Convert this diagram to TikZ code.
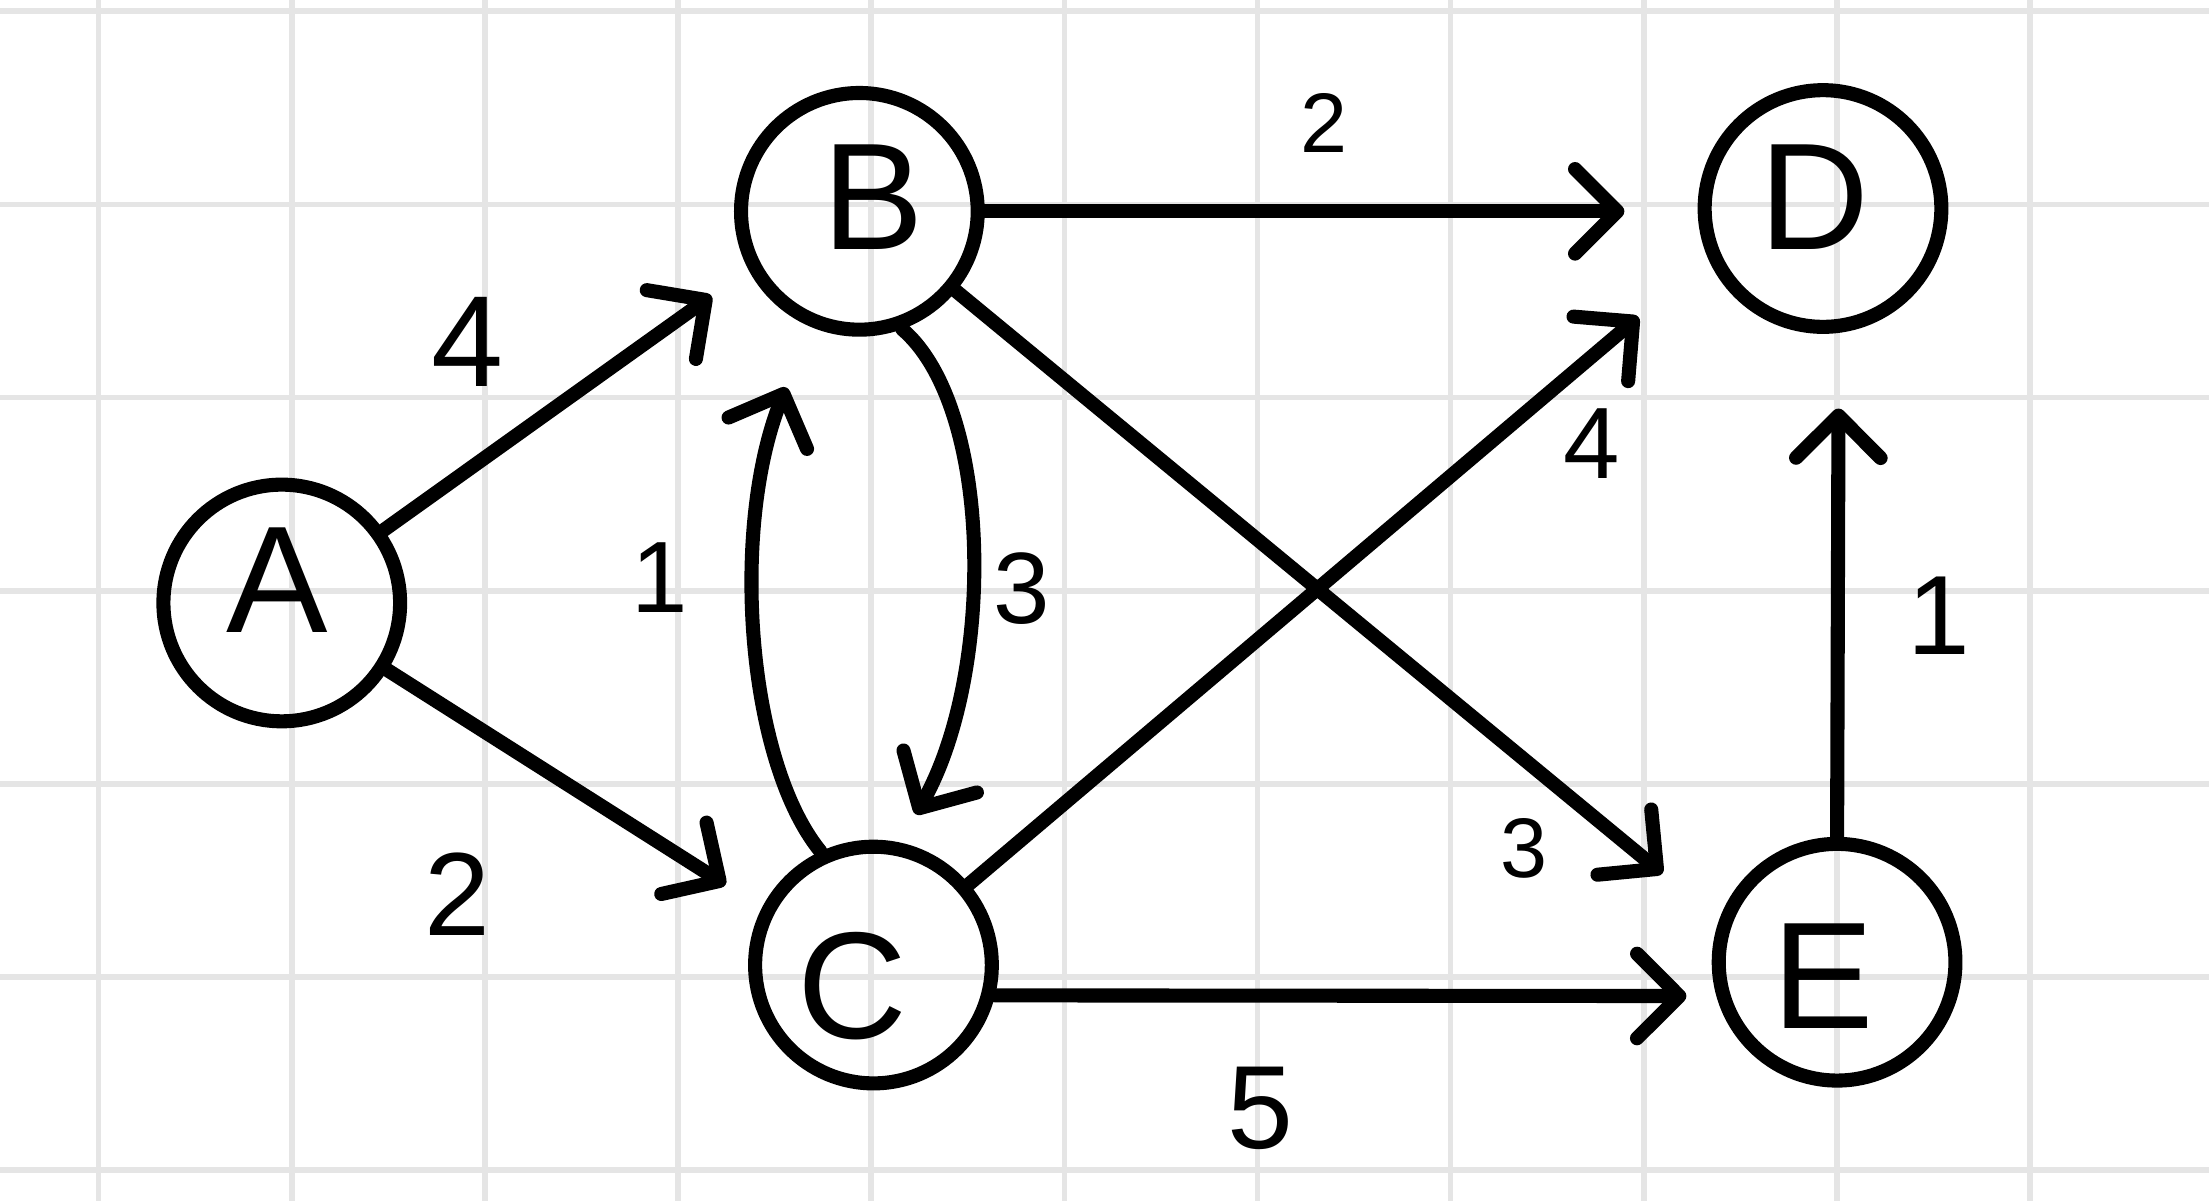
\documentclass[tikz,border=0pt]{standalone}
\usepackage{fontspec}
\setmainfont{Liberation Sans}
\usetikzlibrary{arrows.meta}
\begin{document}
\begin{tikzpicture}[x=0.5pt,y=-0.5pt,
  vert/.style={circle,draw,line width=5pt,minimum size=84pt,inner sep=0pt},
  letter/.style={font=\fontsize{54}{58}\selectfont,inner sep=0pt},
  wlabel/.style={font=\fontsize{36}{40}\selectfont,inner sep=0pt},
  edge/.style={line width=5pt,line cap=round,line join=round,-{Straight Barb[round,length=15pt,width=30pt]}},
  gridline/.style={line width=2pt,color=gray!20}]
\fill[white] (0,0) rectangle (1568,852.5);
\useasboundingbox (0,0) rectangle (1568,852.5);
\foreach \i in {0,...,10} \draw[gridline] ({70+137.1*\i},0) -- ({70+137.1*\i},852.5);
\foreach \j in {0,...,6} \draw[gridline] (0,{8+137.1*\j}) -- (1568,{8+137.1*\j});
% vertices
\node[vert] (A) at (200,428) {};
\node[vert] (B) at (610,150) {};
\node[vert] (D) at (1294,148) {};
\node[vert] (C) at (620,685) {};
\node[vert] (E) at (1304,683) {};
\node[letter] (At) at (197,412) {A};
\node[letter] (Bt) at (620,140) {B};
\node[letter] (Dt) at (1288,140) {D};
\node[letter] (Ct) at (605,700) {C};
\node[letter] (Et) at (1294,693) {E};
% arrow tips
\coordinate (abTip) at (505,210);
\coordinate (acTip) at (515,628);
\coordinate (bdTip) at (1153,150);
\coordinate (beTip) at (1180,620);
\coordinate (cdTip) at (1163,225);
\coordinate (ceTip) at (1197,707);
\coordinate (edTip) at (1305,290);
\coordinate (bcTip) at (650,578);
\coordinate (cbTip) at (558,275);
% edges
\draw[edge] (A) -- (abTip);
\draw[edge] (A) -- (acTip);
\draw[edge] (B) -- (bdTip);
\draw[edge] (B) -- (beTip);
\draw[edge] (C) -- (cdTip);
\draw[edge] (C.-14) -- (ceTip);
\draw[edge] (E.north) -- (edTip);
\draw[edge] (B.-70) .. controls (706,290) and (706,480) .. (bcTip);
\draw[edge] (C.115) .. controls (530,540) and (518,375) .. (cbTip);
% weights
\node[wlabel,font=\fontsize{46}{50}\selectfont] (wAB) at (332,243) {4};
\node[wlabel,font=\fontsize{30}{34}\selectfont] (wBD) at (940,87) {2};
\node[wlabel] (wCB) at (468,410) {1};
\node[wlabel] (wBC) at (725,418) {3};
\node[wlabel] (wCD) at (1130,315) {4};
\node[wlabel,font=\fontsize{42}{46}\selectfont] (wAC) at (325,635) {2};
\node[wlabel,font=\fontsize{30}{34}\selectfont] (wBE) at (1082,602) {3};
\node[wlabel,font=\fontsize{42}{46}\selectfont] (wCE) at (895,787) {5};
\node[wlabel,font=\fontsize{40}{44}\selectfont] (wED) at (1376,437) {1};
\end{tikzpicture}
\end{document}
